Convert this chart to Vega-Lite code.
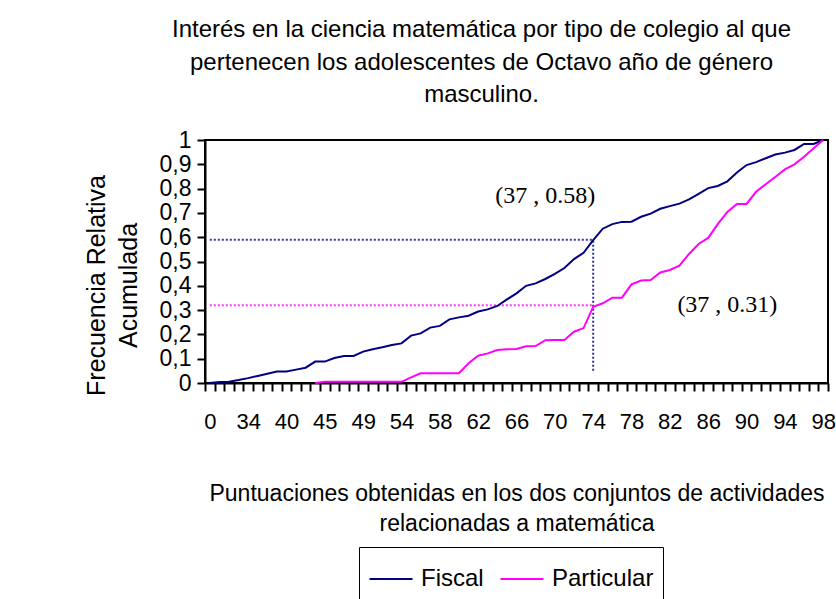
{
  "$schema": "https://vega.github.io/schema/vega-lite/v6.json",
  "autosize": {"type": "none"},
  "padding": {"left": 205, "top": 140, "right": 8, "bottom": 216},
  "width": 623,
  "height": 243,
  "background": "white",
  "title": {
    "text": ["Interés en la ciencia matemática por  tipo de colegio al que", "pertenecen los adolescentes de Octavo año de género", "masculino."],
    "font": "Liberation Sans",
    "fontSize": 24,
    "fontWeight": "normal",
    "color": "black",
    "lineHeight": 32.5,
    "anchor": "middle",
    "dx": -35,
    "offset": 22
  },
  "config": {
    "view": {"stroke": "black", "strokeWidth": 2},
    "axis": {
      "labelFont": "Liberation Sans",
      "titleFont": "Liberation Sans",
      "labelColor": "black",
      "titleColor": "black",
      "domainColor": "black",
      "domainWidth": 2,
      "tickColor": "black",
      "tickWidth": 2,
      "tickSize": 8,
      "grid": false,
      "titleFontWeight": "normal"
    }
  },
  "datasets": {
    "main": [
      {"score": "0", "serie": "Fiscal", "v": 0},
      {"score": "28", "serie": "Fiscal", "v": 0.004},
      {"score": "31", "serie": "Fiscal", "v": 0.005},
      {"score": "33", "serie": "Fiscal", "v": 0.012},
      {"score": "34", "serie": "Fiscal", "v": 0.02},
      {"score": "35", "serie": "Fiscal", "v": 0.029},
      {"score": "36", "serie": "Fiscal", "v": 0.038},
      {"score": "38", "serie": "Fiscal", "v": 0.047},
      {"score": "40", "serie": "Fiscal", "v": 0.047},
      {"score": "41", "serie": "Fiscal", "v": 0.055},
      {"score": "42", "serie": "Fiscal", "v": 0.063},
      {"score": "43", "serie": "Fiscal", "v": 0.088},
      {"score": "45", "serie": "Fiscal", "v": 0.088},
      {"score": "46", "serie": "Fiscal", "v": 0.103},
      {"score": "47", "serie": "Fiscal", "v": 0.111},
      {"score": "48", "serie": "Fiscal", "v": 0.111},
      {"score": "49", "serie": "Fiscal", "v": 0.129},
      {"score": "50", "serie": "Fiscal", "v": 0.139},
      {"score": "51", "serie": "Fiscal", "v": 0.147},
      {"score": "52", "serie": "Fiscal", "v": 0.156},
      {"score": "54", "serie": "Fiscal", "v": 0.163},
      {"score": "55", "serie": "Fiscal", "v": 0.195},
      {"score": "56", "serie": "Fiscal", "v": 0.204},
      {"score": "57", "serie": "Fiscal", "v": 0.228},
      {"score": "58", "serie": "Fiscal", "v": 0.235},
      {"score": "59", "serie": "Fiscal", "v": 0.262},
      {"score": "60", "serie": "Fiscal", "v": 0.27},
      {"score": "61", "serie": "Fiscal", "v": 0.277},
      {"score": "62", "serie": "Fiscal", "v": 0.294},
      {"score": "63", "serie": "Fiscal", "v": 0.303},
      {"score": "64", "serie": "Fiscal", "v": 0.317},
      {"score": "65", "serie": "Fiscal", "v": 0.344},
      {"score": "66", "serie": "Fiscal", "v": 0.369},
      {"score": "67", "serie": "Fiscal", "v": 0.4},
      {"score": "68", "serie": "Fiscal", "v": 0.41},
      {"score": "69", "serie": "Fiscal", "v": 0.428},
      {"score": "70", "serie": "Fiscal", "v": 0.449},
      {"score": "71", "serie": "Fiscal", "v": 0.473},
      {"score": "72", "serie": "Fiscal", "v": 0.51},
      {"score": "73", "serie": "Fiscal", "v": 0.536},
      {"score": "74", "serie": "Fiscal", "v": 0.588},
      {"score": "75", "serie": "Fiscal", "v": 0.635},
      {"score": "76", "serie": "Fiscal", "v": 0.654},
      {"score": "77", "serie": "Fiscal", "v": 0.663},
      {"score": "78", "serie": "Fiscal", "v": 0.664},
      {"score": "79", "serie": "Fiscal", "v": 0.684},
      {"score": "80", "serie": "Fiscal", "v": 0.697},
      {"score": "81", "serie": "Fiscal", "v": 0.717},
      {"score": "82", "serie": "Fiscal", "v": 0.728},
      {"score": "83", "serie": "Fiscal", "v": 0.738},
      {"score": "84", "serie": "Fiscal", "v": 0.756},
      {"score": "85", "serie": "Fiscal", "v": 0.778},
      {"score": "86", "serie": "Fiscal", "v": 0.802},
      {"score": "87", "serie": "Fiscal", "v": 0.811},
      {"score": "88", "serie": "Fiscal", "v": 0.83},
      {"score": "89", "serie": "Fiscal", "v": 0.866},
      {"score": "90", "serie": "Fiscal", "v": 0.897},
      {"score": "91", "serie": "Fiscal", "v": 0.909},
      {"score": "92", "serie": "Fiscal", "v": 0.925},
      {"score": "93", "serie": "Fiscal", "v": 0.94},
      {"score": "94", "serie": "Fiscal", "v": 0.948},
      {"score": "95", "serie": "Fiscal", "v": 0.959},
      {"score": "96", "serie": "Fiscal", "v": 0.984},
      {"score": "97", "serie": "Fiscal", "v": 0.984},
      {"score": "98", "serie": "Fiscal", "v": 1.0},
      {"score": "43", "serie": "Particular", "v": 0},
      {"score": "45", "serie": "Particular", "v": 0.005},
      {"score": "46", "serie": "Particular", "v": 0.005},
      {"score": "47", "serie": "Particular", "v": 0.005},
      {"score": "48", "serie": "Particular", "v": 0.005},
      {"score": "49", "serie": "Particular", "v": 0.005},
      {"score": "50", "serie": "Particular", "v": 0.005},
      {"score": "51", "serie": "Particular", "v": 0.005},
      {"score": "52", "serie": "Particular", "v": 0.005},
      {"score": "54", "serie": "Particular", "v": 0.005},
      {"score": "55", "serie": "Particular", "v": 0.023},
      {"score": "56", "serie": "Particular", "v": 0.04},
      {"score": "57", "serie": "Particular", "v": 0.04},
      {"score": "58", "serie": "Particular", "v": 0.04},
      {"score": "59", "serie": "Particular", "v": 0.04},
      {"score": "60", "serie": "Particular", "v": 0.04},
      {"score": "61", "serie": "Particular", "v": 0.081},
      {"score": "62", "serie": "Particular", "v": 0.112},
      {"score": "63", "serie": "Particular", "v": 0.122},
      {"score": "64", "serie": "Particular", "v": 0.136},
      {"score": "65", "serie": "Particular", "v": 0.139},
      {"score": "66", "serie": "Particular", "v": 0.14},
      {"score": "67", "serie": "Particular", "v": 0.151},
      {"score": "68", "serie": "Particular", "v": 0.152},
      {"score": "69", "serie": "Particular", "v": 0.176},
      {"score": "70", "serie": "Particular", "v": 0.177},
      {"score": "71", "serie": "Particular", "v": 0.177},
      {"score": "72", "serie": "Particular", "v": 0.211},
      {"score": "73", "serie": "Particular", "v": 0.226},
      {"score": "74", "serie": "Particular", "v": 0.314},
      {"score": "75", "serie": "Particular", "v": 0.328},
      {"score": "76", "serie": "Particular", "v": 0.351},
      {"score": "77", "serie": "Particular", "v": 0.351},
      {"score": "78", "serie": "Particular", "v": 0.406},
      {"score": "79", "serie": "Particular", "v": 0.422},
      {"score": "80", "serie": "Particular", "v": 0.424},
      {"score": "81", "serie": "Particular", "v": 0.455},
      {"score": "82", "serie": "Particular", "v": 0.465},
      {"score": "83", "serie": "Particular", "v": 0.483},
      {"score": "84", "serie": "Particular", "v": 0.531},
      {"score": "85", "serie": "Particular", "v": 0.572},
      {"score": "86", "serie": "Particular", "v": 0.597},
      {"score": "87", "serie": "Particular", "v": 0.654},
      {"score": "88", "serie": "Particular", "v": 0.704},
      {"score": "89", "serie": "Particular", "v": 0.737},
      {"score": "90", "serie": "Particular", "v": 0.737},
      {"score": "91", "serie": "Particular", "v": 0.787},
      {"score": "92", "serie": "Particular", "v": 0.818},
      {"score": "93", "serie": "Particular", "v": 0.848},
      {"score": "94", "serie": "Particular", "v": 0.879},
      {"score": "95", "serie": "Particular", "v": 0.9},
      {"score": "96", "serie": "Particular", "v": 0.931},
      {"score": "97", "serie": "Particular", "v": 0.966},
      {"score": "98", "serie": "Particular", "v": 1.0}
    ],
    "guidesNavy": [
      {"g": "h", "score": "0", "v": 0.59},
      {"g": "h", "score": "74", "v": 0.59},
      {"g": "v", "score": "74", "v": 0.05},
      {"g": "v", "score": "74", "v": 0.59}
    ],
    "guidesPink": [
      {"g": "h", "score": "0", "v": 0.32},
      {"g": "h", "score": "74", "v": 0.32}
    ],
    "notes": [
      {"score": "69", "v": 0.77, "t": "(37 ,  0.58)"},
      {"score": "88", "v": 0.321, "t": "(37 ,  0.31)"}
    ]
  },
  "encoding": {
    "x": {
      "field": "score",
      "type": "ordinal",
      "sort": null,
      "scale": {
        "domain": ["0","28","31","33","34","35","36","38","40","41","42","43","45","46","47","48","49","50","51","52","54","55","56","57","58","59","60","61","62","63","64","65","66","67","68","69","70","71","72","73","74","75","76","77","78","79","80","81","82","83","84","85","86","87","88","89","90","91","92","93","94","95","96","97","98"],
        "paddingInner": 0,
        "paddingOuter": 0
      },
      "axis": {
        "title": ["Puntuaciones obtenidas en los dos conjuntos de actividades", "relacionadas a matemática"],
        "titleFontSize": 23,
        "titleLineHeight": 30,
        "titlePadding": 50,
        "labelFontSize": 22,
        "labelAngle": 0,
        "labelPadding": 20,
        "labelOverlap": false,
        "tickBand": "extent",
        "labelExpr": "indexof(['0','34','40','45','49','54','58','62','66','70','74','78','82','86','90','94','98'], datum.value) >= 0 ? datum.value : ''"
      }
    },
    "y": {
      "field": "v",
      "type": "quantitative",
      "scale": {"domain": [0, 1], "nice": false, "zero": true},
      "axis": {
        "title": ["Frecuencia Relativa", "Acumulada"],
        "titleFontSize": 25,
        "titleLineHeight": 32,
        "titlePadding": 18,
        "titleY": 145,
        "labelFontSize": 23,
        "labelPadding": 6,
        "values": [0, 0.1, 0.2, 0.3, 0.4, 0.5, 0.6, 0.7, 0.8, 0.9, 1],
        "labelExpr": "replace(format(datum.value, '~g'), '.', ',')"
      }
    }
  },
  "layer": [
    {
      "data": {"name": "guidesNavy"},
      "mark": {"type": "line", "stroke": "#333399", "strokeWidth": 2, "strokeDash": [2, 2]},
      "encoding": {"detail": {"field": "g"}}
    },
    {
      "data": {"name": "guidesPink"},
      "mark": {"type": "line", "stroke": "#FF33FF", "strokeWidth": 2, "strokeDash": [2, 2]},
      "encoding": {"detail": {"field": "g"}}
    },
    {
      "data": {"name": "main"},
      "mark": {"type": "line", "strokeWidth": 2},
      "encoding": {
        "color": {
          "field": "serie",
          "type": "nominal",
          "scale": {"domain": ["Fiscal", "Particular"], "range": ["#000080", "#FF00FF"]},
          "legend": {
            "orient": "none",
            "legendX": 154,
            "legendY": 407,
            "direction": "horizontal",
            "title": null,
            "symbolType": "stroke",
            "symbolSize": 1850,
            "symbolStrokeWidth": 2,
            "labelFont": "Liberation Sans",
            "labelFontSize": 24,
            "labelColor": "black",
            "strokeColor": "black",
            "padding": 9,
            "columnPadding": 12,
            "labelOffset": 7
          }
        }
      }
    },
    {
      "data": {"name": "notes"},
      "mark": {"type": "text", "font": "Liberation Serif", "fontSize": 24, "color": "black", "align": "center", "baseline": "middle"},
      "encoding": {"text": {"field": "t"}}
    }
  ]
}
